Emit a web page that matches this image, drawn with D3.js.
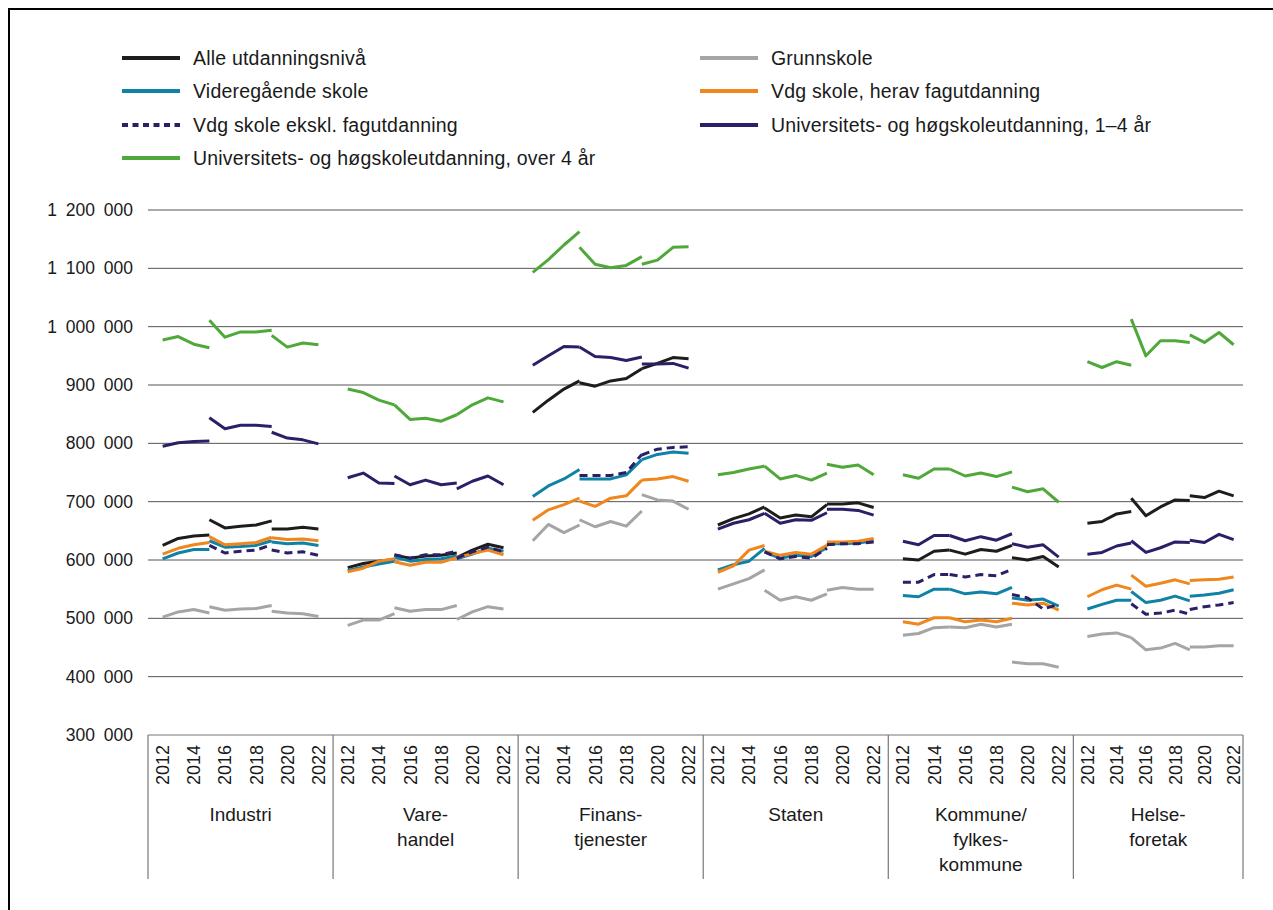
<!DOCTYPE html>
<html>
<head>
<meta charset="utf-8">
<script src="https://cdn.jsdelivr.net/npm/d3@7"></script>
<style>
  html, body { margin: 0; padding: 0; background: #fff; }
  svg text { font-family: "Liberation Sans", Arial, sans-serif; fill: #1a1a1a; }
</style>
</head>
<body>
<div id="chart"></div>
<script>
// Kategorier og år
const groups = ["Industri", "Varehandel", "Finanstjenester", "Staten", "Kommune/fylkeskommune", "Helseforetak"];
const groupLabels = [["Industri"], ["Vare-", "handel"], ["Finans-", "tjenester"], ["Staten"], ["Kommune/", "fylkes-", "kommune"], ["Helse-", "foretak"]];
const years = [2012, 2013, 2014, 2015, 2016, 2017, 2018, 2019, 2020, 2021, 2022];
const yearTicks = [2012, 2014, 2016, 2018, 2020, 2022];
// tre serier med brudd: 2012–2015, 2015–2019, 2019–2022
const segmentYears = [[2012, 2013, 2014, 2015], [2015, 2016, 2017, 2018, 2019], [2019, 2020, 2021, 2022]];
const yTicks = [300000, 400000, 500000, 600000, 700000, 800000, 900000, 1000000, 1100000, 1200000];

// verdier i 1000 kr, per næring: [segment 1, segment 2, segment 3]
const alleNivaa = [
    [[625, 637, 641, 643], [669, 655, 658, 660, 667], [653, 653, 656, 653]],
    [[587, 594, 598, 601], [608, 603, 607, 608, 612], [604, 617, 627, 621]],
    [[853, 874, 893, 907], [904, 898, 907, 911, 928], [928, 937, 947, 945]],
    [[660, 671, 679, 691], [689, 672, 677, 674, 695], [696, 696, 698, 690]],
    [[602, 600, 615, 617], [617, 610, 618, 615, 625], [604, 600, 606, 588]],
    [[663, 666, 679, 683], [706, 676, 691, 703, 702], [710, 707, 718, 710]]
];
const grunnskole = [
    [[502, 511, 515, 509], [520, 514, 516, 517, 522], [512, 509, 508, 503]],
    [[488, 497, 497, 508], [518, 512, 515, 515, 522], [498, 511, 520, 516]],
    [[633, 661, 647, 660], [669, 657, 666, 658, 684], [712, 703, 701, 687]],
    [[550, 559, 568, 583], [548, 531, 537, 531, 542], [548, 553, 550, 550]],
    [[471, 474, 484, 485], [485, 484, 490, 485, 490], [425, 422, 422, 416]],
    [[469, 473, 475, 467], [467, 446, 449, 457, 446], [451, 451, 453, 453]]
];
const videregaende = [
    [[602, 612, 618, 618], [633, 622, 623, 625, 633], [631, 628, 629, 625]],
    [[582, 588, 593, 598], [605, 598, 601, 602, 607], [602, 610, 620, 615]],
    [[709, 727, 739, 755], [739, 739, 739, 746, 772], [772, 781, 785, 783]],
    [[583, 592, 598, 620], [614, 603, 608, 606, 621], [628, 628, 629, 633]],
    [[539, 537, 550, 550], [550, 542, 545, 542, 553], [535, 531, 533, 521]],
    [[516, 524, 531, 531], [546, 527, 531, 538, 530], [538, 540, 543, 549]]
];
const fagutdanning = [
    [[610, 620, 626, 630], [640, 626, 628, 630, 639], [638, 635, 636, 633]],
    [[580, 586, 598, 602], [597, 591, 596, 596, 604], [604, 611, 617, 609]],
    [[668, 686, 695, 706], [701, 692, 706, 710, 737], [737, 739, 743, 735]],
    [[579, 590, 617, 625], [615, 608, 613, 610, 625], [631, 631, 632, 637]],
    [[494, 490, 501, 501], [501, 494, 497, 494, 500], [526, 523, 526, 514]],
    [[537, 549, 557, 550], [574, 555, 560, 566, 559], [565, 566, 567, 571]]
];
const eksklFag = [
    [null, [625, 612, 615, 617, 626], [617, 612, 614, 608]],
    [null, [609, 603, 609, 609, 615], [603, 614, 622, 614]],
    [null, [745, 745, 745, 750, 781], [780, 790, 793, 794]],
    [null, [614, 602, 606, 603, 620], [626, 628, 628, 631]],
    [[562, 562, 575, 575], [575, 571, 575, 573, 584], [541, 535, 516, 524]],
    [null, [525, 507, 509, 514, 507], [515, 520, 523, 527]]
];
const uni14 = [
    [[795, 801, 803, 804], [844, 825, 831, 831, 829], [819, 809, 806, 799]],
    [[741, 749, 732, 731], [744, 729, 737, 729, 732], [722, 735, 744, 729]],
    [[934, 950, 966, 965], [965, 949, 947, 942, 948], [936, 936, 937, 929]],
    [[653, 663, 669, 680], [680, 663, 669, 668, 681], [687, 687, 685, 677]],
    [[632, 626, 642, 642], [642, 633, 640, 634, 645], [628, 622, 626, 605]],
    [[610, 613, 624, 629], [633, 613, 621, 631, 630], [634, 630, 644, 635]]
];
const uniOver4 = [
    [[977, 983, 970, 964], [1011, 982, 991, 991, 994], [985, 965, 972, 969]],
    [[893, 887, 874, 866], [866, 841, 843, 838, 849], [849, 866, 878, 871]],
    [[1093, 1115, 1140, 1163], [1136, 1107, 1101, 1105, 1120], [1107, 1114, 1136, 1137]],
    [[746, 750, 756, 761], [761, 739, 745, 737, 749], [764, 759, 763, 746]],
    [[746, 740, 756, 756], [756, 744, 749, 743, 751], [725, 717, 722, 699]],
    [[940, 930, 940, 934], [1013, 950, 976, 976, 973], [986, 973, 990, 969]]
];

const series = [
    { name: "Alle utdanningsnivå", values: alleNivaa, color: "#1d1d1b" },
    { name: "Grunnskole", values: grunnskole, color: "#a5a5a5" },
    { name: "Videregående skole", values: videregaende, color: "#0f82a6" },
    { name: "Vdg skole, herav fagutdanning", values: fagutdanning, color: "#f0861c" },
    { name: "Vdg skole ekskl. fagutdanning", values: eksklFag, color: "#2b2067", dash: "8,5" },
    { name: "Universitets- og høgskoleutdanning, 1–4 år", values: uni14, color: "#2b2067" },
    { name: "Universitets- og høgskoleutdanning, over 4 år", values: uniOver4, color: "#4fa83a" }
];

const W = 1273, H = 910;
const plot = { left: 148, right: 1243, top: 210, bottom: 735 };

const svg = d3.select("#chart").append("svg")
    .attr("width", W)
    .attr("height", H);

// ramme (bare topp og venstre synlig)
svg.append("rect")
    .attr("x", 9).attr("y", 9)
    .attr("width", W + 20).attr("height", H + 20)
    .attr("fill", "none")
    .attr("stroke", "#000")
    .attr("stroke-width", 2);

const y = d3.scaleLinear()
    .domain([300000, 1200000])
    .range([plot.bottom, plot.top]);

// 12 plasser per næring (11 år + mellomrom), siste næring har 11
const slot = d3.scaleLinear().domain([0, 71]).range([plot.left, plot.right]);
const groupBounds = groups.map((g, i) => [slot(i * 12), slot(Math.min(i * 12 + 12, 71))]);
const xScales = groups.map((g, i) => {
    const last = i === groups.length - 1;
    return d3.scalePoint()
        .domain(years)
        .range(groupBounds[i])
        .padding(last ? 0.8 : 0.94)
        .align(last ? 0.6 : 0.5);
});

const nb = d3.formatLocale({ decimal: ",", thousands: " ", grouping: [3], currency: ["", " kr"] });
const fmt = nb.format(",");

// rutenett
svg.append("g").selectAll("line")
    .data(yTicks.slice(1))
    .join("line")
    .attr("x1", plot.left).attr("x2", plot.right)
    .attr("y1", d => y(d)).attr("y2", d => y(d))
    .attr("stroke", "#555")
    .attr("stroke-width", 1);

// y-akse
svg.append("g").selectAll("text")
    .data(yTicks)
    .join("text")
    .attr("x", 133)
    .attr("y", d => y(d))
    .attr("dy", "0.35em")
    .attr("text-anchor", "end")
    .style("font-size", "17.5px")
    .style("word-spacing", "4px")
    .text(d => fmt(d));

// x-akse: boks med skillelinjer
const axisG = svg.append("g");
axisG.append("line")
    .attr("x1", plot.left).attr("x2", plot.right)
    .attr("y1", plot.bottom).attr("y2", plot.bottom)
    .attr("stroke", "#777").attr("stroke-width", 1.2);
const edges = groupBounds.map(b => b[0]).concat([plot.right]);
axisG.selectAll("line.sep")
    .data(edges)
    .join("line")
    .attr("class", "sep")
    .attr("x1", d => d).attr("x2", d => d)
    .attr("y1", plot.bottom).attr("y2", 879)
    .attr("stroke", "#777").attr("stroke-width", 1.2);

groups.forEach((g, gi) => {
    const x = xScales[gi];
    axisG.append("g").selectAll("text")
        .data(yearTicks)
        .join("text")
        .attr("transform", d => `translate(${x(d)},${plot.bottom + 10}) rotate(-90)`)
        .attr("dy", "0.36em")
        .attr("text-anchor", "end")
        .style("font-size", "18px")
        .text(d => d);

    const cx = (groupBounds[gi][0] + groupBounds[gi][1]) / 2;
    axisG.append("text")
        .attr("x", cx)
        .attr("y", 821)
        .attr("text-anchor", "middle")
        .style("font-size", "19px")
        .selectAll("tspan")
        .data(groupLabels[gi])
        .join("tspan")
        .attr("x", cx)
        .attr("dy", (d, i) => i === 0 ? 0 : 25)
        .text(d => d);
});

// linjer
const lineGen = d3.line()
    .x(d => d.x)
    .y(d => y(d.v * 1000));

const linesG = svg.append("g");
series.forEach(s => {
    s.values.forEach((grp, gi) => {
        grp.forEach((seg, si) => {
            if (!seg) return;
            const pts = seg.map((v, k) => ({ x: xScales[gi](segmentYears[si][k]), v: v }));
            linesG.append("path")
                .datum(pts)
                .attr("d", lineGen)
                .attr("fill", "none")
                .attr("stroke", s.color)
                .attr("stroke-width", 3)
                .attr("stroke-linejoin", "round")
                .attr("stroke-dasharray", s.dash || null);
        });
    });
});

// tegnforklaring, to kolonner
const legendCols = [122, 700];
const legendRows = [58, 91, 125, 158];
const legend = svg.append("g").selectAll("g")
    .data(series)
    .join("g")
    .attr("transform", (d, i) => `translate(${legendCols[i % 2]},${legendRows[Math.floor(i / 2)]})`);
legend.append("line")
    .attr("x1", 0).attr("x2", 58)
    .attr("stroke", d => d.color)
    .attr("stroke-width", 4)
    .attr("stroke-dasharray", d => d.dash ? "6,4.5" : null);
legend.append("text")
    .attr("x", 71)
    .attr("dy", "0.35em")
    .style("font-size", "19.5px")
    .style("letter-spacing", "0.2px")
    .text(d => d.name);
</script>
</body>
</html>
